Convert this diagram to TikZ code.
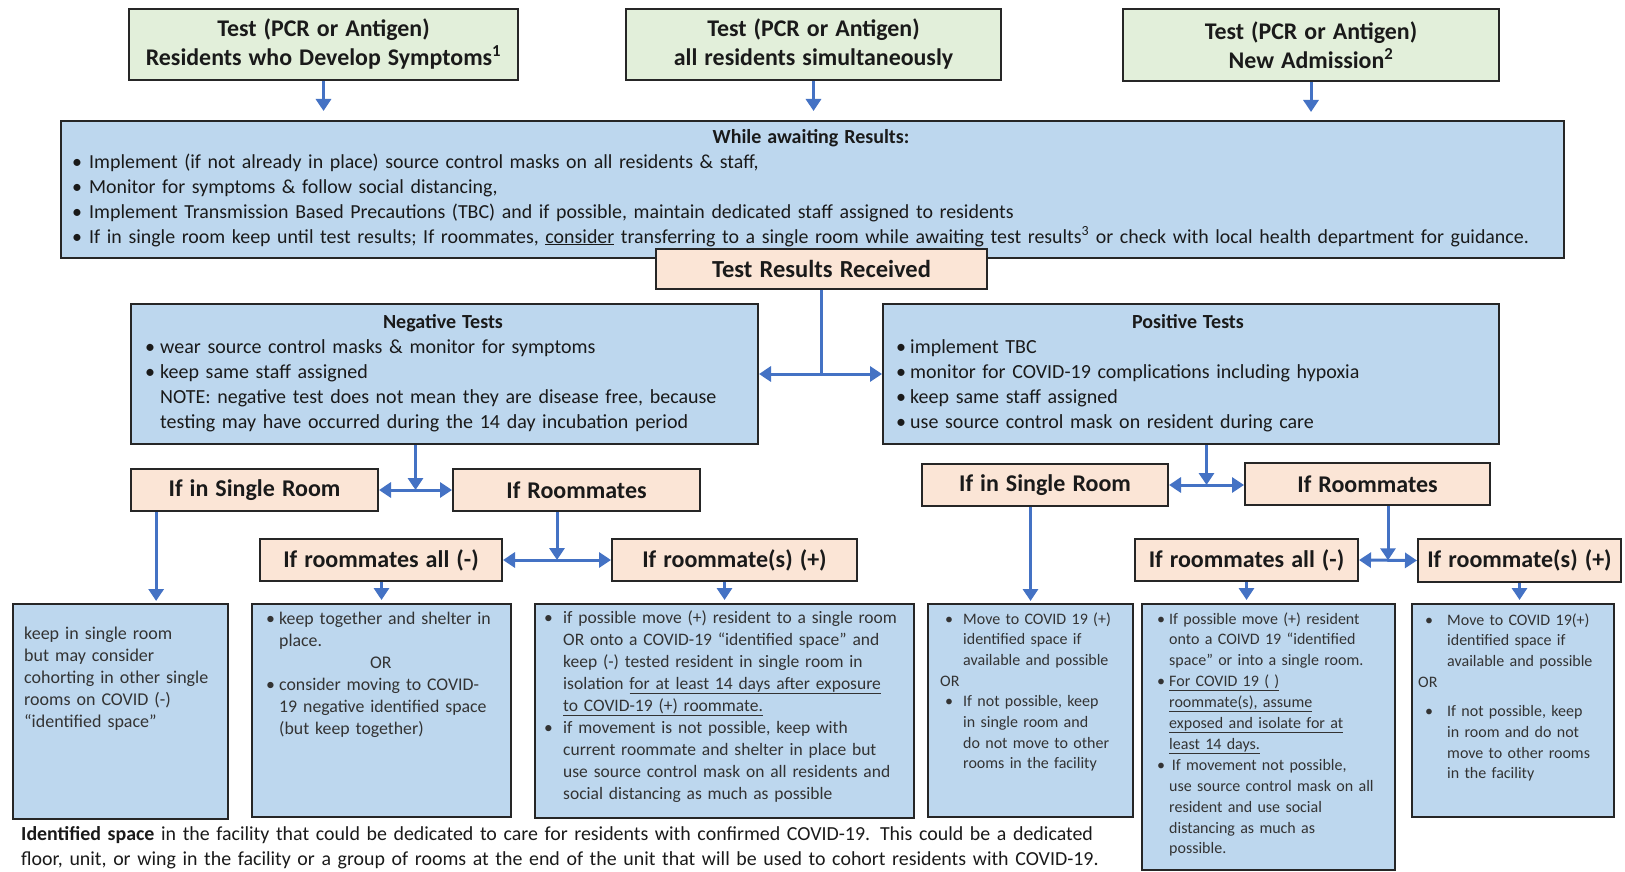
\documentclass[tikz,border=0pt]{standalone}
\usepackage{fontspec}
\setmainfont{Carlito}[WordSpace=1.3]
\usetikzlibrary{arrows.meta,calc}
\definecolor{greenc}{HTML}{E2EFDA}
\definecolor{bluec}{HTML}{BDD7EE}
\definecolor{peachc}{HTML}{FBE5D6}
\definecolor{bordc}{HTML}{262626}
\definecolor{arrc}{HTML}{4472C4}
\definecolor{textc}{HTML}{1A1A1A}
\definecolor{textl}{HTML}{333333}
\newcommand\mybul[1]{\makebox[#1][l]{\textbullet}}
\newcommand\myind[1]{\hspace*{#1}}
\newcommand\pbul[2]{\makebox[#2][l]{\hspace{#1}\textbullet}}
\newcommand\boxat[7]{%
  \pgfmathsetmacro\bw{#5-#3}\pgfmathsetmacro\bh{#6-#4}%
  \node[#1, anchor=north west, minimum width=\bw pt, minimum height=\bh pt] (#2) at (#3,#4) {#7};}
\begin{document}
\begin{tikzpicture}[x=1pt,y=-1pt,
  box/.style={draw=bordc, line width=2pt, inner sep=0pt, text=textc},
  gbox/.style={box, fill=greenc, align=center, font=\bfseries\fontsize{23.9}{29}\selectfont},
  bbox/.style={box, fill=bluec},
  pbox/.style={box, fill=peachc, font=\bfseries\fontsize{24}{28}\selectfont},
  conn/.style={draw=arrc, line width=3pt},
  arr/.style={conn, -{Triangle[width=15pt,length=12pt]}},
  darr/.style={conn, {Triangle[width=15pt,length=12pt]}-{Triangle[width=15pt,length=12pt]}},
  txt/.style={anchor=base west, align=left, inner sep=0pt, text=textc},
  smalltxt/.style={txt, text=textl, text width=400pt},
  ttl/.style={anchor=base, inner sep=0pt, text=textc, font=\bfseries\fontsize{20}{24}\selectfont}]
\useasboundingbox[fill=white] (0,0) rectangle (1625,872);

% ---- boxes ----
\boxat{gbox}{b1}{128}{8}{517}{79}{Test (PCR or Antigen)\\Residents who Develop Symptoms\textsuperscript{1}}
\boxat{gbox}{b2}{625}{8}{1000}{79}{Test (PCR or Antigen)\\all residents simultaneously}
\boxat{gbox}{b3}{1122}{8}{1498}{80}{Test (PCR or Antigen)\\New Admission\textsuperscript{2}}
\boxat{bbox}{main}{60}{120}{1563}{257}{}
\boxat{pbox, font=\bfseries\fontsize{24.5}{28}\selectfont}{trr}{655}{248}{986}{288}{Test Results Received}
\boxat{bbox}{neg}{130}{303}{757}{443}{}
\boxat{bbox}{pos}{882}{303}{1498}{443}{}
\boxat{pbox}{nsingle}{130}{468}{377}{510}{If in Single Room}
\boxat{pbox}{nroom}{452}{468}{699}{510}{If Roommates}
\boxat{pbox}{psingle}{921}{463}{1167}{505}{If in Single Room}
\boxat{pbox}{proom}{1244}{462}{1489}{504}{If Roommates}
\boxat{pbox}{nall}{259}{538}{501}{580}{If roommates all (-)}
\boxat{pbox}{nplus}{611}{538}{856}{580}{If roommate(s) (+)}
\boxat{pbox}{pall}{1134}{538}{1357}{580}{If roommates all (-)}
\boxat{pbox}{pplus}{1417}{538}{1620}{581}{If roommate(s) (+)}
\boxat{bbox}{nb1}{12}{603}{227}{818}{}
\boxat{bbox}{nb2}{251}{603}{510}{816}{}
\boxat{bbox}{nb3}{534}{603}{913}{817}{}
\boxat{bbox}{pb1}{927}{603}{1132}{816}{}
\boxat{bbox}{pb2}{1141}{603}{1394}{869}{}
\boxat{bbox}{pb3}{1411}{603}{1613}{816}{}

% ---- texts ----
\node[ttl] (maint) at (811,143) {While awaiting Results:};
\node[txt, text width=1490pt, font=\fontsize{19.9}{25}\selectfont] (mainb) at (72,168) {%
\mybul{17pt}Implement (if not already in place) source control masks on all residents \& staff,\\
\mybul{17pt}Monitor for symptoms \& follow social distancing,\\
\mybul{17pt}Implement Transmission Based Precautions (TBC) and if possible, maintain dedicated staff assigned to residents\\
\mybul{17pt}If in single room keep until test results; If roommates, \underline{consider} transferring to a single room while awaiting test results\textsuperscript{3} or check with local health department for guidance.};

\node[ttl] (negt) at (443,328) {Negative Tests};
\node[txt, text width=620pt, font=\fontsize{20}{25}\selectfont] (negb) at (145,353) {%
\mybul{15pt}wear source control masks \& monitor for symptoms\\
\mybul{15pt}keep same staff assigned\\
\myind{15pt}NOTE: negative test does not mean they are disease free, because\\
\myind{15pt}testing may have occurred during the 14 day incubation period};

\node[ttl] (post) at (1188,328) {Positive Tests};
\node[txt, text width=600pt, font=\fontsize{20}{25}\selectfont] (posb) at (896,353) {%
\mybul{14pt}implement TBC\\
\mybul{14pt}monitor for COVID-19 complications including hypoxia\\
\mybul{14pt}keep same staff assigned\\
\mybul{14pt}use source control mask on resident during care};

\node[smalltxt, font=\fontsize{18}{22}\selectfont] (nb1t) at (24,639) {%
keep in single room\\ but may consider\\ cohorting in other single\\ rooms on COVID (-)\\ “identified space”};

\node[smalltxt, font=\fontsize{17.8}{22}\selectfont] (nb2t) at (266,624) {%
\mybul{13pt}keep together and shelter in\\ \myind{13pt}place.\\ \myind{104pt}OR\\
\mybul{13pt}consider moving to COVID-\\ \myind{13pt}19 negative identified space\\ \myind{13pt}(but keep together)};

\node[smalltxt, font=\fontsize{17.5}{22}\selectfont] (nb3t) at (544,623) {%
\mybul{19pt}if possible move (+) resident to a single room\\
\myind{19pt}OR onto a COVID-19 “identified space” and\\
\myind{19pt}keep (-) tested resident in single room in\\
\myind{19pt}isolation \underline{for at least 14 days after exposure}\\
\myind{19pt}\underline{to COVID-19 (+) roommate.}\\
\mybul{19pt}if movement is not possible, keep with\\
\myind{19pt}current roommate and shelter in place but\\
\myind{19pt}use source control mask on all residents and\\
\myind{19pt}social distancing as much as possible};

\node[smalltxt, font=\fontsize{16}{20.7}\selectfont] (pb1t) at (940,624) {%
\pbul{5pt}{23pt}Move to COVID 19 (+)\\ \myind{23pt}identified space if\\ \myind{23pt}available and possible\\
OR\\
\pbul{5pt}{23pt}If not possible, keep\\ \myind{23pt}in single room and\\ \myind{23pt}do not move to other\\ \myind{23pt}rooms in the facility};

\node[smalltxt, font=\fontsize{16}{20.9}\selectfont] (pb2t) at (1157,624) {%
\mybul{12pt}If possible move (+) resident\\ \myind{12pt}onto a COIVD 19 “identified\\ \myind{12pt}space” or into a single room.\\
\mybul{12pt}\underline{For COVID 19 ( )}\\ \myind{12pt}\underline{roommate(s), assume}\\ \myind{12pt}\underline{exposed and isolate for at}\\ \myind{12pt}\underline{least 14 days.}\\
\mybul{12pt}\,If movement not possible,\\ \myind{12pt}use source control mask on all\\ \myind{12pt}resident and use social\\ \myind{12pt}distancing as much as\\ \myind{12pt}possible.};

\node[smalltxt, font=\fontsize{16}{20.7}\selectfont] (pb3t) at (1418,625) {%
\pbul{7pt}{29pt}Move to COVID 19(+)\\ \myind{29pt}identified space if\\ \myind{29pt}available and possible\\
OR\\[9pt]
\pbul{7pt}{29pt}If not possible, keep\\ \myind{29pt}in room and do not\\ \myind{29pt}move to other rooms\\ \myind{29pt}in the facility};

\node[txt, text width=1200pt, font=\fontsize{19.9}{25}\selectfont] (foot) at (21,840) {%
\textbf{Identified space} in the facility that could be dedicated to care for residents with confirmed COVID-19. This could be a dedicated\\
floor, unit, or wing in the facility or a group of rooms at the end of the unit that will be used to cohort residents with COVID-19.};

% ---- connectors ----
\draw[arr, shorten >=9pt] (b1.south) -- (b1.south |- main.north);
\draw[arr, shorten >=9pt] (b2.south) -- (b2.south |- main.north);
\draw[arr, shorten >=8pt] (b3.south) -- (b3.south |- main.north);

\coordinate (j1) at (trr.south |- neg.east);
\draw[conn] (trr.south) -- (j1);
\draw[arr] (j1) -- (neg.east);
\draw[arr] (j1) -- (pos.west);

\coordinate (j2) at ($(nsingle.east)!0.5!(nroom.west)$);
\draw[arr] (neg.south -| j2) -- (j2);
\draw[darr] (nsingle.east) -- (nroom.west);

\coordinate (j3) at ($(psingle.east)!0.5!(psingle.east -| proom.west)$);
\draw[arr] (pos.south -| j3) -- (j3);
\draw[darr] (psingle.east) -- (psingle.east -| proom.west);

\coordinate (j4) at ($(nall.east)!0.5!(nplus.west)$);
\draw[arr] (nroom.south -| j4) -- (j4);
\draw[darr] (nall.east) -- (nplus.west);

\coordinate (j5) at ($(pall.east)!0.5!(pplus.west)$);
\draw[arr] (proom.south -| j5) -- (j5);
\draw[darr] (pall.east) -- (pplus.west);

\coordinate (s1) at ($(nsingle.south west)!0.105!(nsingle.south east)$);
\draw[arr, shorten >=2pt] (s1) -- (s1 |- nb1.north);
\draw[arr, shorten >=2pt] (psingle.south -| pb1.north) -- (pb1.north);

\draw[arr, shorten >=3pt] (nall.south -| nb2.north) -- (nb2.north);
\draw[arr, shorten >=3pt] (nplus.south -| nb3.north) -- (nb3.north);
\draw[arr, shorten >=3pt] (pall.south) -- (pall.south |- pb2.north);
\draw[arr, shorten >=3pt] (pplus.south) -- (pplus.south |- pb3.north);
\end{tikzpicture}
\end{document}
